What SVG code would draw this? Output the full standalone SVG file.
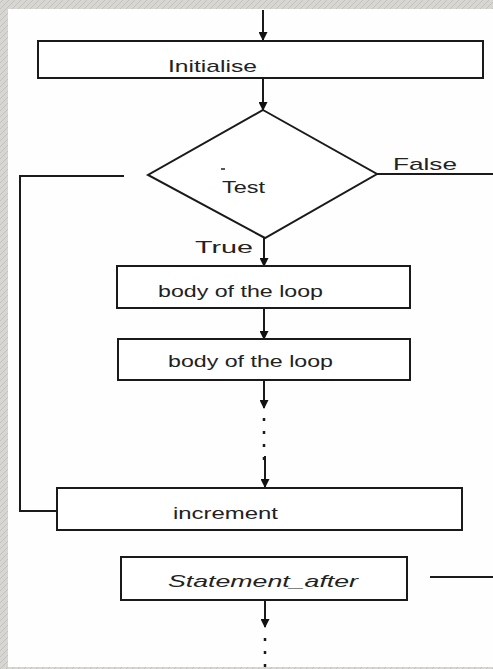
<svg xmlns="http://www.w3.org/2000/svg" width="493" height="669" viewBox="0 0 493 669">
<defs>
<marker id="ah" viewBox="0 0 10 10" refX="9" refY="5" markerWidth="11" markerHeight="9" markerUnits="userSpaceOnUse" orient="auto">
<path d="M0,0 L10,5 L0,10 Z" fill="#111"/>
</marker>
<pattern id="tex" width="6" height="6" patternUnits="userSpaceOnUse">
<rect width="6" height="6" fill="#d8d6d2"/>
<path d="M0,3 L3,0 M3,6 L6,3" stroke="#c4c2be" stroke-width="1"/>
</pattern>
</defs>
<style>
.box{fill:#fff;stroke:#1a1a1a;stroke-width:2}
.ln{fill:none;stroke:#1a1a1a;stroke-width:2}
.arr{fill:none;stroke:#1a1a1a;stroke-width:2;marker-end:url(#ah)}
.dash{fill:none;stroke:#1a1a1a;stroke-width:2.5;stroke-dasharray:3 10}
.t{font-family:"Liberation Sans",Arial,sans-serif;font-size:17px;fill:#222}
</style>
<rect width="493" height="669" fill="url(#tex)"/>
<rect x="8" y="9" width="485" height="658" fill="#fefefe"/>

<g id="connectors">
<line class="arr" x1="263" y1="10" x2="263" y2="40"/>
<line class="arr" x1="263" y1="78" x2="263" y2="110"/>
<line class="arr" x1="264" y1="238" x2="264" y2="266"/>
<line class="arr" x1="264" y1="308" x2="264" y2="339"/>
<line class="arr" x1="264" y1="380" x2="264" y2="408"/>
<line class="dash" x1="264" y1="418" x2="264" y2="460"/>
<line class="arr" x1="265" y1="456" x2="265" y2="487"/>
<line class="arr" x1="265" y1="600" x2="265" y2="627"/>
<line class="dash" x1="265" y1="638" x2="265" y2="669"/>
<polyline class="ln" points="124,176 20,176 20,511 57,511"/>
<line class="ln" x1="377" y1="174" x2="493" y2="174"/>
<line class="ln" x1="430" y1="577" x2="493" y2="577"/>
<text class="t" x="393" y="170" font-size="18" textLength="64" lengthAdjust="spacingAndGlyphs">False</text>
<text class="t" x="195" y="253" font-size="18" textLength="58" lengthAdjust="spacingAndGlyphs">True</text>
</g>

<g id="initialise">
<rect class="box" x="38" y="41" width="445" height="37"/>
<text class="t" x="168" y="72" font-size="19" textLength="89" lengthAdjust="spacingAndGlyphs">Initialise</text>
</g>

<g id="test">
<polygon class="box" points="263,110 377,174 265,238 148,175"/>
<line x1="221" y1="169" x2="225" y2="169" stroke="#222" stroke-width="1.5"/>
<text class="t" x="222" y="193" font-size="19" textLength="43" lengthAdjust="spacingAndGlyphs">Test</text>
</g>

<g id="body1">
<rect class="box" x="117" y="266" width="293" height="42"/>
<text class="t" x="158" y="297" textLength="165" lengthAdjust="spacingAndGlyphs">body of the loop</text>
</g>

<g id="body2">
<rect class="box" x="118" y="339" width="292" height="41"/>
<text class="t" x="168" y="367" textLength="165" lengthAdjust="spacingAndGlyphs">body of the loop</text>
</g>

<g id="increment">
<rect class="box" x="57" y="488" width="405" height="42"/>
<text class="t" x="173" y="519" textLength="105" lengthAdjust="spacingAndGlyphs">increment</text>
</g>

<g id="statement_after">
<rect class="box" x="121" y="557" width="286" height="43"/>
<text class="t" x="168" y="587" font-size="15" font-style="italic" textLength="190" lengthAdjust="spacingAndGlyphs">Statement_after</text>
</g>
</svg>
